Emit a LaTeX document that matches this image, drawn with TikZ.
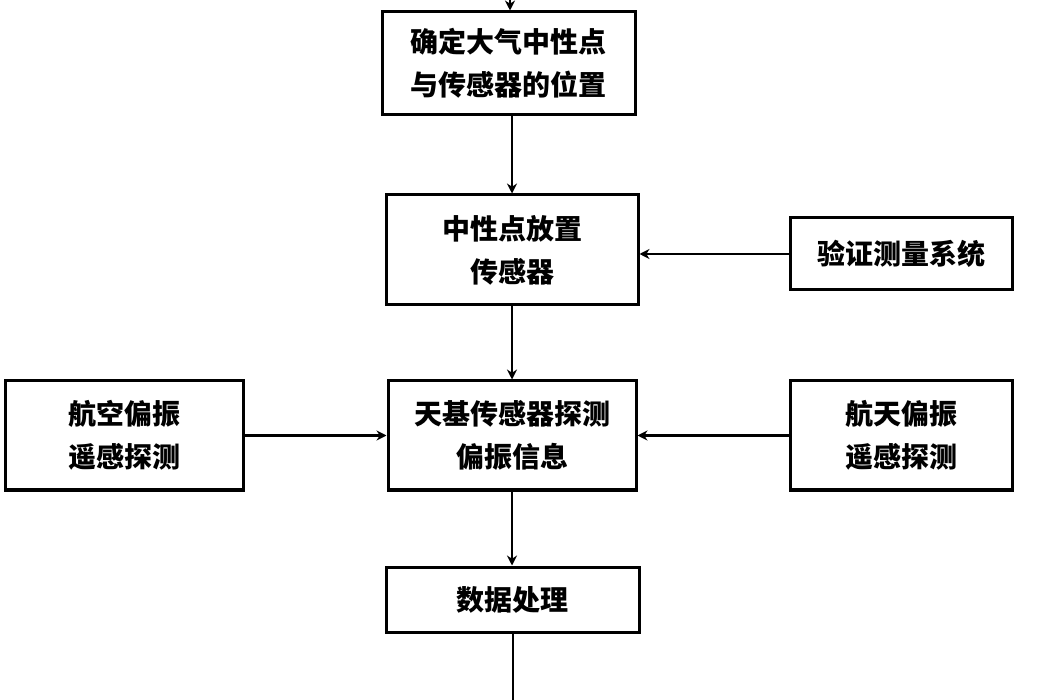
\documentclass[tikz,border=0pt]{standalone}
\usepackage{fontspec}
\newfontfamily\cjk{Noto Sans CJK SC}
\usetikzlibrary{arrows.meta}
\begin{document}
\begin{tikzpicture}[x=1pt,y=-1pt,
  box/.style={draw,line width=3pt,minimum width=#1,inner sep=0pt,align=center,font=\cjk\bfseries\fontsize{28}{43}\selectfont},
  conn/.style={line width=2.4pt,-{Stealth[length=10pt,width=10pt]}},
  plain/.style={line width=2.4pt}]
\useasboundingbox (0,0) rectangle (1050,700);
\node[box=253pt,minimum height=103pt] (b1) at (508.5,63.5) {确定大气中性点\\与传感器的位置};
\node[box=252pt,minimum height=110pt] (b2) at (512,250) {中性点放置\\传感器};
\node[box=222pt,minimum height=72pt] (v) at (901,254) {验证测量系统};
\node[box=248pt,minimum height=109pt] (c) at (512,435.5) {天基传感器探测\\偏振信息};
\node[box=238pt,minimum height=109pt] (l) at (124,435.5) {航空偏振\\遥感探测};
\node[box=222pt,minimum height=109pt] (r) at (901,435.5) {航天偏振\\遥感探测};
\node[box=253pt,minimum height=65pt] (d) at (512.5,599.5) {数据处理};
\coordinate (top) at (510,0);
\coordinate (bot) at (513,700);
\draw[conn] (top) -- (b1.north -| top);
\draw[conn] (b1.south -| b2) -- (b2.north);
\draw[conn] (b2) -- (c.north);
\draw[conn] (v.west) -- (b2.east |- v.west);
\draw[conn] (l.east) -- (c.west);
\draw[conn] (r.west) -- (c.east);
\draw[conn] (c.south) -- (d.north -| c.south);
\draw[plain] (d.south -| bot) -- (bot);
\end{tikzpicture}
\end{document}
